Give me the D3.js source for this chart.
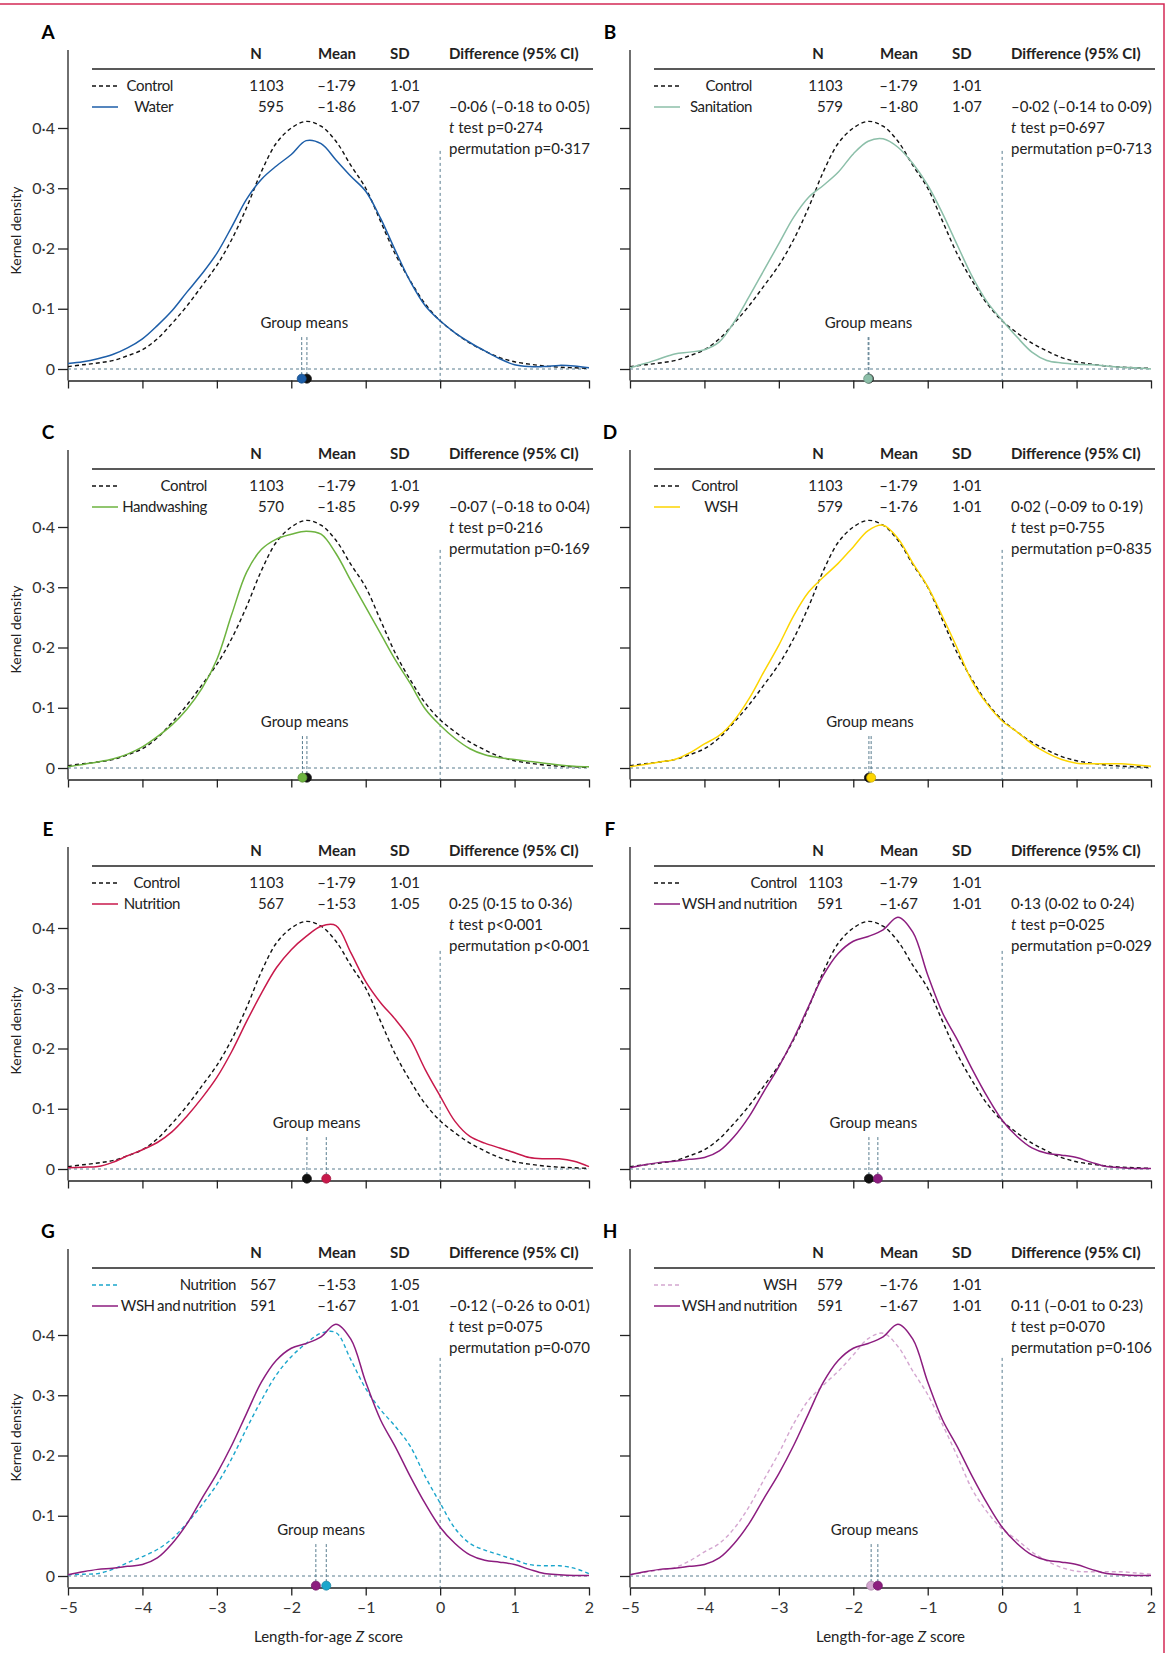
<!DOCTYPE html>
<html lang="en">
<head>
<meta charset="UTF-8">
<title>Length-for-age Z score kernel density</title>
<style>
    body { margin: 0; background: #fff; }
    svg { display: block; font-family: Lato, "Open Sans", sans-serif; }
    .txt { font-size: 15px; fill: #222; }
    .hdr { font-weight: bold; }
    .lbl { letter-spacing: -0.4px; word-spacing: -1px; }
    .axis text { font-size: 16px; fill: #333; font-family: Lato, sans-serif; }
    .axis line, .axis path { stroke: #222; stroke-width: 1.3; }
</style>
</head>
<body>
<div id="chart"></div>
<script src="https://d3js.org/d3.v7.min.js"></script>
<script>
// x grid (Z score) the densities were read at
const zGrid = [-5, -4.8, -4.6, -4.4, -4.2, -4, -3.8, -3.6, -3.4, -3.2, -3, -2.8, -2.6, -2.4, -2.2, -2, -1.8, -1.6,
    -1.4, -1.2, -1, -0.8, -0.6, -0.4, -0.2, 0, 0.2, 0.4, 0.6, 0.8, 1, 1.2, 1.4, 1.6, 1.8, 2];

// kernel density per arm
const control = [.004, .007, .010, .014, .022, .032, .050, .076, .105, .138, .172, .215, .268, .328, .375, .400, .411, .403,
    .378, .338, .300, .245, .190, .146, .108, .080, .060, .043, .030, .019, .012, .008, .005, .003, .002, .001];
const water = [.009, .012, .017, .024, .035, .050, .072, .097, .128, .158, .192, .236, .282, .315, .337, .356, .379, .374,
    .347, .320, .295, .250, .196, .145, .105, .080, .060, .044, .030, .017, .007, .004, .004, .006, .005, .002];
const sanitation = [.002, .009, .017, .025, .028, .032, .045, .078, .120, .164, .208, .252, .285, .305, .327, .357, .378, .382,
    .368, .341, .305, .258, .205, .153, .111, .081, .053, .028, .014, .010, .008, .007, .005, .003, .002, .000];
const handwashing = [.002, .006, .010, .015, .023, .035, .052, .072, .098, .132, .180, .255, .325, .363, .380, .388, .393, .388,
    .356, .311, .267, .223, .179, .140, .098, .071, .049, .032, .022, .017, .014, .011, .008, .005, .003, .002];
const wsh = [.002, .006, .010, .014, .025, .040, .054, .079, .115, .160, .204, .253, .292, .317, .340, .367, .394, .403,
    .381, .340, .301, .251, .198, .143, .106, .078, .060, .040, .025, .014, .008, .007, .007, .007, .005, .003];
const nutrition = [.002, .003, .004, .011, .022, .032, .044, .062, .088, .118, .152, .195, .245, .292, .334, .364, .386, .403,
    .404, .359, .311, .276, .248, .215, .165, .121, .079, .054, .043, .035, .027, .019, .017, .017, .013, .004];
const wshNutrition = [.002, .007, .011, .013, .016, .019, .030, .054, .087, .129, .170, .217, .270, .322, .358, .378, .386, .397,
    .418, .393, .322, .259, .214, .165, .120, .081, .054, .035, .026, .023, .019, .011, .004, .002, .001, .001];

// group summary
const groupNames = ["Control", "Water", "Sanitation", "Handwashing", "WSH", "Nutrition", "WSH and nutrition"];
const groupN = [1103, 595, 579, 570, 579, 567, 591];
const groupMean = [-1.79, -1.86, -1.80, -1.85, -1.76, -1.53, -1.67];
const groupSD = [1.01, 1.07, 1.07, 0.99, 1.01, 1.05, 1.01];
const groupDensity = [control, water, sanitation, handwashing, wsh, nutrition, wshNutrition];

// panels: reference arm vs compared arm
const panelLetters = ["A", "B", "C", "D", "E", "F", "G", "H"];
const panelRef = ["Control", "Control", "Control", "Control", "Control", "Control", "Nutrition", "WSH"];
const panelArm = ["Water", "Sanitation", "Handwashing", "WSH", "Nutrition", "WSH and nutrition", "WSH and nutrition", "WSH and nutrition"];
const panelDiff = ["–0·06 (–0·18 to 0·05)", "–0·02 (–0·14 to 0·09)", "–0·07 (–0·18 to 0·04)", "0·02 (–0·09 to 0·19)",
    "0·25 (0·15 to 0·36)", "0·13 (0·02 to 0·24)", "–0·12 (–0·26 to 0·01)", "0·11 (–0·01 to 0·23)"];
const panelTTest = ["p=0·274", "p=0·697", "p=0·216", "p=0·755", "p<0·001", "p=0·025", "p=0·075", "p=0·070"];
const panelPerm = ["p=0·317", "p=0·713", "p=0·169", "p=0·835", "p<0·001", "p=0·029", "p=0·070", "p=0·106"];

// axis ticks
const xTicks = [-5, -4, -3, -2, -1, 0, 1, 2];
const xTickLabels = ["–5", "–4", "–3", "–2", "–1", "0", "1", "2"];
const yTicks = [0, 0.1, 0.2, 0.3, 0.4];
const yTickLabels = ["0", "0·1", "0·2", "0·3", "0·4"];

// styles
const armColor = {
    "Control": "#111111", "Water": "#1d5ea8", "Sanitation": "#8cbfa9", "Handwashing": "#6db33f",
    "WSH": "#fdd500", "Nutrition": "#c8194b", "WSH and nutrition": "#8c1d7f"
};
const refColor = { "Control": "#111111", "Nutrition": "#1ba6cc", "WSH": "#d4a6d0" };
const refLine = "#587c8e";

// layout
const W = 1168, H = 1653;
const colX = [68, 630];
const plotW = 521;
const rowBase = [369, 768, 1169, 1576];
const rowHead = [54, 454, 851, 1253];
const legendRight = [105, 122, 139, 108, 112, 167, 168, 167];
const nRight = [216, 213, 216, 213, 216, 213, 208, 213];

const fmt = v => (v < 0 ? "–" : "") + Math.abs(v).toFixed(2).replace(".", "·");

const svg = d3.select("#chart").append("svg")
    .attr("width", W)
    .attr("height", H);

// page frame
svg.append("path")
    .attr("d", `M0,4H1164V${H}`)
    .attr("fill", "none")
    .attr("stroke", "#d42a55")
    .attr("stroke-width", 1.5);

panelLetters.forEach((letter, i) => {
    const col = i % 2, row = Math.floor(i / 2);
    const ax = colX[col], base = rowBase[row], head = rowHead[row];
    const bottom = row === 3;

    const x = d3.scaleLinear().domain([-5, 2]).range([ax, ax + plotW]);
    const y = d3.scaleLinear().domain([0, 0.4]).range([base, base - 241]);
    const axisY = base + 11.5;

    const g = svg.append("g");

    // panel letter
    g.append("text")
        .attr("x", ax - 20).attr("y", head - 15)
        .attr("text-anchor", "middle")
        .style("font-size", "19px").style("font-weight", "bold")
        .text(letter);

    // y axis
    const yAxis = g.append("g").attr("class", "axis")
        .attr("transform", `translate(${ax},0)`)
        .call(d3.axisLeft(y).tickValues(yTicks).tickSize(10).tickPadding(3)
            .tickFormat((d, k) => col === 0 ? yTickLabels[k] : ""));
    yAxis.select(".domain").remove();
    g.append("line")
        .attr("x1", ax).attr("x2", ax)
        .attr("y1", head - 4).attr("y2", axisY)
        .attr("stroke", "#222").attr("stroke-width", 1.3);

    // x axis
    g.append("g").attr("class", "axis")
        .attr("transform", `translate(0,${axisY})`)
        .call(d3.axisBottom(x).tickValues(xTicks).tickSize(8).tickSizeOuter(0).tickPadding(6)
            .tickFormat((d, k) => bottom ? xTickLabels[k] : ""));

    if (col === 0) {
        g.append("text")
            .attr("transform", `translate(21,${y(0.23)}) rotate(-90)`)
            .attr("text-anchor", "middle")
            .style("font-size", "14px").style("fill", "#222")
            .text("Kernel density");
    }
    if (bottom) {
        const t = g.append("text")
            .attr("x", x(-1.5)).attr("y", base + 66)
            .attr("text-anchor", "middle")
            .style("font-size", "15px").style("fill", "#222");
        t.append("tspan").text("Length-for-age ");
        t.append("tspan").style("font-style", "italic").text("Z");
        t.append("tspan").text(" score");
    }

    // reference lines
    g.append("line")
        .attr("x1", x(-5)).attr("x2", x(2))
        .attr("y1", y(0)).attr("y2", y(0))
        .attr("stroke", refLine).attr("stroke-width", 1).attr("stroke-dasharray", "3,3");
    g.append("line")
        .attr("x1", x(0)).attr("x2", x(0))
        .attr("y1", y(0.362)).attr("y2", axisY)
        .attr("stroke", refLine).attr("stroke-width", 1).attr("stroke-dasharray", "3,3");

    const refIdx = groupNames.indexOf(panelRef[i]);
    const armIdx = groupNames.indexOf(panelArm[i]);
    const rc = refColor[panelRef[i]];
    const ac = armColor[panelArm[i]];

    // density curves
    const line = d3.line()
        .x((d, k) => x(zGrid[k]))
        .y(d => y(d))
        .curve(d3.curveCatmullRom.alpha(0.5));

    g.append("path")
        .datum(groupDensity[refIdx])
        .attr("d", line)
        .attr("fill", "none").attr("stroke", rc)
        .attr("stroke-width", 1.4).attr("stroke-dasharray", "4,3");
    g.append("path")
        .datum(groupDensity[armIdx])
        .attr("d", line)
        .attr("fill", "none").attr("stroke", ac)
        .attr("stroke-width", 1.5);

    // group means
    const mRef = groupMean[refIdx], mArm = groupMean[armIdx];
    g.append("text")
        .attr("class", "txt")
        .attr("x", x((mRef + mArm) / 2)).attr("y", y(0.076) + 5)
        .attr("text-anchor", "middle")
        .text("Group means");
    [mRef, mArm].forEach(m => {
        g.append("line")
            .attr("x1", x(m)).attr("x2", x(m))
            .attr("y1", y(0.053)).attr("y2", y(-0.012))
            .attr("stroke", refLine).attr("stroke-width", 1).attr("stroke-dasharray", "3,2");
    });
    [[mRef, rc], [mArm, ac]].forEach(([m, c]) => {
        g.append("circle")
            .attr("cx", x(m)).attr("cy", y(-0.016))
            .attr("r", 4.5)
            .attr("fill", c)
            .attr("stroke", d3.color(c).darker(0.6)).attr("stroke-width", 0.8);
    });

    // table header
    const hy = head + 5;
    g.append("text").attr("class", "txt hdr").attr("x", ax + 188).attr("y", hy).attr("text-anchor", "middle").text("N");
    g.append("text").attr("class", "txt hdr").attr("x", ax + 288).attr("y", hy).attr("text-anchor", "end").text("Mean");
    g.append("text").attr("class", "txt hdr").attr("x", ax + 322).attr("y", hy).text("SD");
    g.append("text").attr("class", "txt hdr").attr("x", ax + 381).attr("y", hy).text("Difference (95% CI)");
    g.append("line")
        .attr("x1", ax + 24).attr("x2", ax + 525)
        .attr("y1", head + 15).attr("y2", head + 15)
        .attr("stroke", "#222").attr("stroke-width", 1.3);

    // table rows
    [[refIdx, rc, true], [armIdx, ac, false]].forEach(([gi, c, dashed], r) => {
        const cy = head + 32 + r * 21;
        g.append("line")
            .attr("x1", ax + 24).attr("x2", ax + 50)
            .attr("y1", cy).attr("y2", cy)
            .attr("stroke", c).attr("stroke-width", 1.5)
            .attr("stroke-dasharray", dashed ? "4,3" : null);
        g.append("text").attr("class", "txt lbl").attr("x", ax + legendRight[i]).attr("y", cy + 5)
            .attr("text-anchor", "end").text(groupNames[gi]);
        g.append("text").attr("class", "txt").attr("x", ax + nRight[i]).attr("y", cy + 5)
            .attr("text-anchor", "end").text(groupN[gi]);
        g.append("text").attr("class", "txt").attr("x", ax + 288).attr("y", cy + 5)
            .attr("text-anchor", "end").text(fmt(groupMean[gi]));
        g.append("text").attr("class", "txt").attr("x", ax + 322).attr("y", cy + 5)
            .text(fmt(groupSD[gi]));
    });

    // difference column
    const dx = ax + 381;
    g.append("text").attr("class", "txt").attr("x", dx).attr("y", head + 58).text(panelDiff[i]);
    const tt = g.append("text").attr("class", "txt").attr("x", dx).attr("y", head + 79);
    tt.append("tspan").style("font-style", "italic").text("t");
    tt.append("tspan").text(" test " + panelTTest[i]);
    g.append("text").attr("class", "txt").attr("x", dx).attr("y", head + 100).text("permutation " + panelPerm[i]);
});
</script>
</body>
</html>
